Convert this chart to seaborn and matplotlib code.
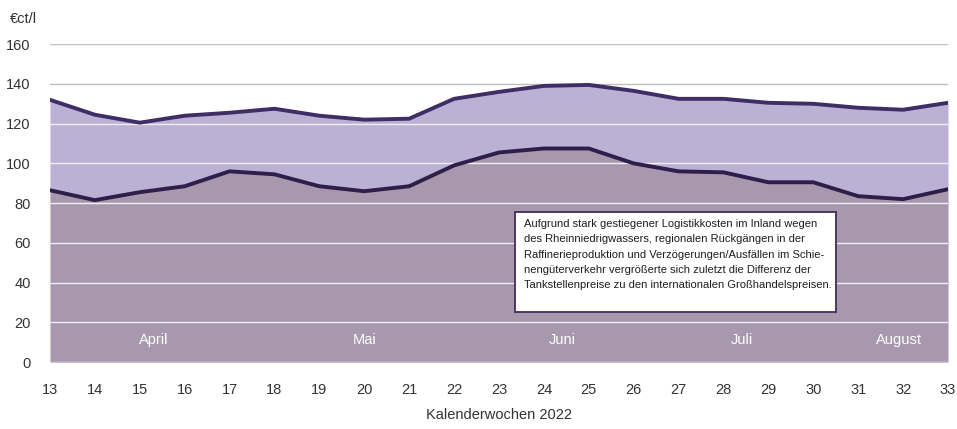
import numpy as np
import pandas as pd
import matplotlib
matplotlib.use("Agg")
import matplotlib.pyplot as plt
import seaborn as sns

# Kalenderwochen und Preise (€ct/l)
wochen = list(range(13, 34))
tankstelle = [132, 124.5, 120.5, 124, 125.5, 127.5, 124, 122, 122.5, 132.5, 136,
              139, 139.5, 136.5, 132.5, 132.5, 130.5, 130, 128, 127, 130.5]
grosshandel = [86.5, 81.5, 85.5, 88.5, 96, 94.5, 88.5, 86, 88.5, 99, 105.5,
               107.5, 107.5, 100, 96, 95.5, 90.5, 90.5, 83.5, 82, 87]
monate = ["April", "Mai", "Juni", "Juli", "August"]
monat_pos = [15.3, 20.0, 24.4, 28.4, 31.9]
y_ticks = [0, 20, 40, 60, 80, 100, 120, 140, 160]

hinweis = ("Aufgrund stark gestiegener Logistikkosten im Inland wegen\n"
           "des Rheinniedrigwassers, regionalen Rückgängen in der\n"
           "Raffinerieproduktion und Verzögerungen/Ausfällen im Schie-\n"
           "nengüterverkehr vergrößerte sich zuletzt die Differenz der\n"
           "Tankstellenpreise zu den internationalen Großhandelspreisen.")

df = pd.DataFrame({"woche": wochen, "tankstelle": tankstelle, "grosshandel": grosshandel})

sns.set_style("white")
plt.rcParams["font.family"] = ["Liberation Sans", "DejaVu Sans"]

fig = plt.figure(figsize=(9.57, 4.29), dpi=100)
ax = fig.add_axes([0.0522, 0.156, 0.9384, 0.741])

ax.fill_between(df["woche"], df["grosshandel"], df["tankstelle"], color="#bbb1d4", lw=0, zorder=1)
ax.fill_between(df["woche"], 0, df["grosshandel"], color="#a798ad", lw=0, zorder=1)

for y in y_ticks:
    farbe = "#bdbdbd" if y >= 140 else "#f2eef5"
    ax.axhline(y, color=farbe, lw=1.0, zorder=2)

sns.lineplot(data=df, x="woche", y="tankstelle", color="#3f2d66", lw=2.8, ax=ax, zorder=3)
sns.lineplot(data=df, x="woche", y="grosshandel", color="#2e1f4a", lw=2.8, ax=ax, zorder=3)

for name, pos in zip(monate, monat_pos):
    ax.text(pos, 11, name, color="white", fontsize=10.5, ha="center", va="center", zorder=4)

ax.text(23.55, 72, hinweis, fontsize=8.0, ha="left", va="top", linespacing=1.66, zorder=5,
        color="#1e1e1e")
rect = plt.Rectangle((23.36, 25.2), 7.14, 50.3, facecolor="white", edgecolor="#3f2d5a",
                     lw=1.3, zorder=4)
ax.add_patch(rect)

ax.set_xlim(13, 33)
ax.set_ylim(0, 160)
ax.set_xticks(wochen)
ax.set_yticks(y_ticks)
ax.tick_params(axis="x", length=0, pad=15, labelsize=10.5, colors="#333333")
ax.tick_params(axis="y", length=0, pad=14, labelsize=10.5, colors="#333333")
ax.set_xlabel("Kalenderwochen 2022", fontsize=10.5, color="#333333", labelpad=8)
ax.set_ylabel("")
for s in ax.spines.values():
    s.set_visible(False)
ax.text(-0.045, 1.08, "€ct/l", transform=ax.transAxes, fontsize=10.5, color="#333333",
        ha="left", va="center")

fig.savefig("out.png", dpi=100)
